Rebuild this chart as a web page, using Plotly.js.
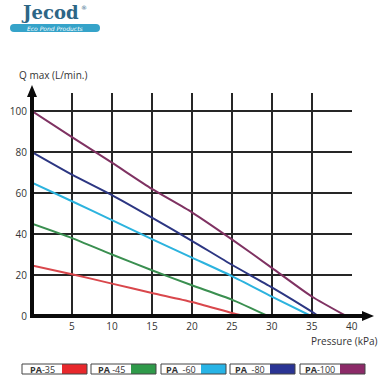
<!DOCTYPE html>
<html>
<head>
<meta charset="utf-8">
<script src="https://cdn.plot.ly/plotly-3.0.1.min.js"></script>
<style>html,body{margin:0;padding:0;background:#fff;}#chart{width:385px;height:385px;}</style>
</head>
<body>
<div id="chart"></div>
<script>
// ---- data ----
const seriesNames = ["PA-35", "PA-45", "PA-60", "PA-80", "PA-100"];
const legendLabels = ["<b>PA</b>-35", "<b>PA</b> -45", "<b>PA</b>  -60", "<b>PA</b>  -80", "<b>PA</b>-100"];
const pa35x = [0, 5, 10, 15, 20, 25, 26.6];
const pa35y = [24.6, 20.4, 15.8, 11.2, 6.8, 1.5, 0];
const pa45x = [0, 5, 10, 15, 20, 25, 29.5];
const pa45y = [45, 38, 30, 22.3, 15, 8, 0];
const pa60x = [0, 5, 10, 15, 20, 25, 30, 34.9];
const pa60y = [65, 56, 46.8, 37.5, 28.5, 19.5, 9.5, 0];
const pa80x = [0, 5, 10, 15, 20, 25, 30, 35, 35.8];
const pa80y = [80, 69, 59, 48, 36.7, 25, 14, 2.1, 0];
const pa100x = [0, 5, 10, 15, 20, 25, 30, 35, 39.3];
const pa100y = [100, 87.3, 74.8, 62, 50.6, 37.4, 23.5, 9.5, 0];
const xTicks = [5, 10, 15, 20, 25, 30, 35, 40];
const yTicks = [0, 20, 40, 60, 80, 100];

// ---- styling ----
const lineColors = ["#d9474c", "#3a8f50", "#2cb3de", "#2c3682", "#7f3262"];
const swatchColors = ["#e8282c", "#2f9a4a", "#28b4e6", "#2a3494", "#8c2a68"];
const xs = [pa35x, pa45x, pa60x, pa80x, pa100x];
const ys = [pa35y, pa45y, pa60y, pa80y, pa100y];

const W = 385, H = 385;
const M = {l: 32, r: 33, t: 93, b: 69};
const PW = W - M.l - M.r, PH = H - M.t - M.b;
const px = x => (x - M.l) / PW;          // pixel -> paper x
const py = y => (H - M.b - y) / PH;      // pixel -> paper y

const traces = xs.map((x, i) => ({
  type: "scatter", mode: "lines", x: x, y: ys[i], name: seriesNames[i],
  line: {color: lineColors[i], width: 2, shape: "spline", smoothing: 0.6},
  hoverinfo: "skip", cliponaxis: false
}));

const shapes = [];
const annotations = [];
const AX = "#0a0a0a";
// axes (thick, with arrows)
shapes.push({type: "line", xref: "paper", yref: "paper", x0: px(32), x1: px(32), y0: py(318), y1: py(95), line: {color: AX, width: 4}, layer: "above"});
shapes.push({type: "line", xref: "paper", yref: "paper", x0: px(30), x1: px(364), y0: py(316), y1: py(316), line: {color: AX, width: 4}, layer: "above"});
shapes.push({type: "path", xref: "paper", yref: "paper",
  path: `M ${px(32)},${py(85)} L ${px(27)},${py(97)} L ${px(37)},${py(97)} Z`, fillcolor: AX, line: {width: 0}, layer: "above"});
shapes.push({type: "path", xref: "paper", yref: "paper",
  path: `M ${px(374)},${py(316)} L ${px(362)},${py(311)} L ${px(362)},${py(321)} Z`, fillcolor: AX, line: {width: 0}, layer: "above"});

// legend boxes
const legX0 = [22, 91, 161, 230, 300];
const boxW = 65, labW = 40, by0 = 364, by1 = 374;
legX0.forEach((x0, i) => {
  shapes.push({type: "rect", xref: "paper", yref: "paper", x0: px(x0 + labW), x1: px(x0 + boxW), y0: py(by1), y1: py(by0), fillcolor: swatchColors[i], line: {width: 0}});
  shapes.push({type: "rect", xref: "paper", yref: "paper", x0: px(x0), x1: px(x0 + boxW), y0: py(by1), y1: py(by0), fillcolor: "rgba(0,0,0,0)", line: {color: "#444", width: 1}});
  annotations.push({xref: "paper", yref: "paper", x: px(x0 + labW / 2), y: py((by0 + by1) / 2), text: legendLabels[i], showarrow: false, xanchor: "center", yanchor: "middle", font: {family: "Open Sans, sans-serif", size: 9, color: "#333"}});
});

// logo pill
const pl = 10, pr = 100, pt = 24, pb = 32, rr = 4;
shapes.push({type: "path", xref: "paper", yref: "paper", fillcolor: "#35a3c9", line: {width: 0},
  path: `M ${px(pl + rr)},${py(pt)} L ${px(pr - rr)},${py(pt)} Q ${px(pr)},${py(pt)} ${px(pr)},${py((pt + pb) / 2)} Q ${px(pr)},${py(pb)} ${px(pr - rr)},${py(pb)} L ${px(pl + rr)},${py(pb)} Q ${px(pl)},${py(pb)} ${px(pl)},${py((pt + pb) / 2)} Q ${px(pl)},${py(pt)} ${px(pl + rr)},${py(pt)} Z`});
annotations.push({xref: "paper", yref: "paper", x: px(55), y: py(28.5), text: "<i>Eco Pond Products</i>", showarrow: false, xanchor: "center", yanchor: "middle", borderpad: 0, font: {family: "DejaVu Sans, sans-serif", size: 6, color: "#ffffff"}});
annotations.push({xref: "paper", yref: "paper", x: px(50), y: py(12), text: "<b>Jecod</b>", showarrow: false, xanchor: "center", yanchor: "middle", borderpad: 0, font: {family: "DejaVu Serif, serif", size: 18, color: "#2d6686"}});
annotations.push({xref: "paper", yref: "paper", x: px(84), y: py(7), text: "®", showarrow: false, xanchor: "center", yanchor: "middle", borderpad: 0, font: {family: "DejaVu Sans, sans-serif", size: 6, color: "#2d6686"}});

// axis titles
annotations.push({xref: "paper", yref: "paper", x: px(17), y: py(75), text: "Q max (L/min.)", showarrow: false, xanchor: "left", yanchor: "middle", font: {family: "Open Sans, sans-serif", size: 10, color: "#333"}});
annotations.push({xref: "paper", yref: "paper", x: px(379), y: py(341), text: "Pressure (kPa)", showarrow: false, xanchor: "right", yanchor: "middle", font: {family: "Open Sans, sans-serif", size: 10, color: "#333"}});

const layout = {
  width: W, height: H, margin: M, showlegend: false,
  paper_bgcolor: "#fff", plot_bgcolor: "#fff",
  xaxis: {range: [0, 40.03], tickvals: xTicks, ticktext: xTicks.map(String), showgrid: true, gridcolor: "#262626", gridwidth: 1.7,
    zeroline: false, showline: false, ticks: "", fixedrange: true, ticklabelstandoff: 3,
    tickfont: {family: "Open Sans, sans-serif", size: 10, color: "#333"}},
  yaxis: {range: [0, 108.8], tickvals: yTicks, ticktext: yTicks.map(String), showgrid: true, gridcolor: "#262626", gridwidth: 1.7,
    zeroline: false, showline: false, ticks: "", fixedrange: true, ticklabelstandoff: 4,
    tickfont: {family: "Open Sans, sans-serif", size: 10, color: "#333"}},
  shapes: shapes, annotations: annotations
};

Plotly.newPlot("chart", traces, layout, {displayModeBar: false, staticPlot: true});
</script>
</body>
</html>
